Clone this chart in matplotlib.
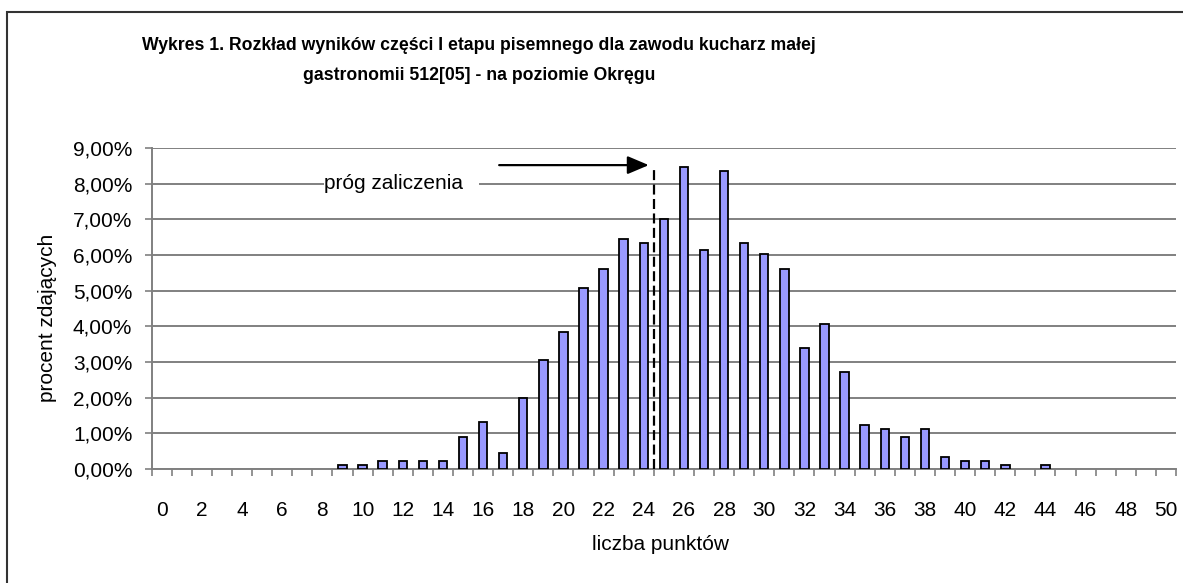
import numpy as np
import matplotlib
matplotlib.use("Agg")
import matplotlib.pyplot as plt
from matplotlib.patches import Rectangle

# liczba punktow 0..50 and share of candidates in %
points = list(range(0, 51))
percent = [0, 0, 0, 0, 0, 0, 0, 0, 0,
           0.11, 0.11, 0.22, 0.22, 0.22, 0.22, 0.89, 1.33, 0.44, 2.00,
           3.07, 3.84, 5.07, 5.62, 6.46, 6.35, 7.02, 8.46, 6.13, 8.35,
           6.35, 6.02, 5.62, 3.40, 4.06, 2.73, 1.23, 1.12, 0.89, 1.12,
           0.33, 0.22, 0.22, 0.11, 0, 0.11,
           0, 0, 0, 0, 0, 0]
x_labels = [str(p) for p in range(0, 51, 2)]
y_ticks = list(range(0, 10))
threshold = 24.5          # próg zaliczenia
threshold_top = 8.45

title = ("Wykres 1. Rozkład wyników części I etapu pisemnego dla zawodu kucharz małej\n"
         "gastronomii 512[05] - na poziomie Okręgu")

plt.rcParams['font.family'] = ['Liberation Sans', 'DejaVu Sans']

W, H = 1183, 583
fig = plt.figure(figsize=(W / 100, H / 100), dpi=100)

# outer frame (runs off the right and bottom edges)
fig.patches.append(Rectangle((7 / W, -0.05), 1.1, 1 - 12 / H + 0.05,
                             transform=fig.transFigure, fill=False,
                             edgecolor='#333333', linewidth=1.5))

ax = fig.add_axes([151.7 / W, 1 - 469 / H, (1176 - 151.7) / W, (469 - 148) / H])

# empty classes are not drawn at all (no outline on the axis)
x_nz = [p for p, v in zip(points, percent) if v > 0]
v_nz = [v for v in percent if v > 0]
ax.bar(x_nz, v_nz, width=0.42, color='#9999FF', edgecolor='black',
       linewidth=1.3, zorder=3)

ax.set_xlim(-0.5, 50.5)
ax.set_ylim(0, 9)

# grid
ax.set_yticks(y_ticks)
ax.set_yticklabels([f"{v},00%" for v in y_ticks])
ax.yaxis.grid(True, color='#808080', linewidth=1.4, zorder=0)

ax.set_xticks(np.arange(-0.5, 51, 1))
ax.set_xticklabels([])
ax.set_xticks(range(0, 51, 2), minor=True)
ax.set_xticklabels(x_labels, minor=True)

ax.tick_params(axis='x', which='major', length=5, width=1.2, color='#808080', direction='out')
ax.tick_params(axis='x', which='minor', length=0, pad=23, labelsize=15)
ax.tick_params(axis='y', length=5, width=1.2, color='#808080', pad=9, labelsize=15)

for side in ['top', 'right']:
    ax.spines[side].set_visible(False)
for side in ['left', 'bottom']:
    ax.spines[side].set_color('#808080')
    ax.spines[side].set_linewidth(1.4)

# threshold marker
ax.vlines(threshold, 0, threshold_top, colors='black', linestyles=(0, (4.5, 2)),
          linewidth=1.6, zorder=4)
ax.annotate('', xy=(24.25, 8.52), xytext=(16.8, 8.52),
            arrowprops=dict(arrowstyle='-|>,head_length=1.3,head_width=0.55',
                            color='black', linewidth=1.6, shrinkA=0, shrinkB=0),
            zorder=5)
ax.text(8.1, 8.0, 'próg zaliczenia', fontsize=15, ha='left', va='center',
        bbox=dict(facecolor='white', edgecolor='none', pad=0.5), zorder=4)
# gap in the gridline right of the label
ax.add_patch(Rectangle((15.0, 7.9), 0.8, 0.2, facecolor='white', edgecolor='none', zorder=2))

fig.text(479 / W, 1 - 60.5 / H, title, ha='center', va='center', fontsize=12.7,
         fontweight='bold', linespacing=2.05)
fig.text(661 / W, 1 - 545 / H, 'liczba punktów', ha='center', va='center', fontsize=15)
fig.text(48 / W, 1 - 318 / H, 'procent zdających', ha='center', va='center',
         rotation=90, fontsize=15)

fig.savefig('out.png', dpi=100)
